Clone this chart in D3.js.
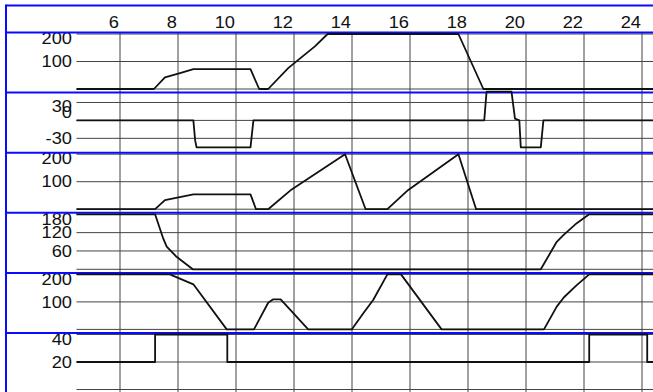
<!DOCTYPE html>
<html>
<head>
<meta charset="utf-8">
<script src="https://cdn.jsdelivr.net/npm/d3@7"></script>
<style>
  html, body { margin: 0; padding: 0; background: #fff; overflow: hidden; }
  svg { display: block; }
  text { font-family: "Liberation Sans", Arial, sans-serif; font-size: 16px; fill: #111; }
</style>
</head>
<body>
<svg id="chart" width="653" height="392"></svg>
<script>
// Hour axis ticks (shared by all strips)
const hourTicks = [6, 8, 10, 12, 14, 16, 18, 20, 22, 24];

// Strip 1
const trace1Hours  = [4.5, 7.17, 7.55, 8.07, 8.53, 10.5, 10.8, 11.11, 11.8, 12.72, 13.16, 17.67, 18.53, 24.5];
const trace1Values = [0, 0, 42, 58, 72, 72, 0, 0, 76, 155, 200, 200, 0, 0];
const trace1Ticks  = [200, 100];

// Strip 2
const trace2Hours  = [4.5, 8.53, 8.59, 8.64, 10.5, 10.6, 18.56, 18.64, 19.5, 19.62, 19.77, 19.82, 20.51, 20.6, 24.5];
const trace2Values = [0, 0, -33, -45, -45, 0, 0, 48, 48, 3, 0, -45, -45, 0, 0];
const trace2Ticks  = [30, 0, -30];

// Strip 3
const trace3Hours  = [4.5, 7.21, 7.55, 8.53, 10.5, 10.69, 11.11, 11.92, 13.76, 14.47, 15.22, 15.94, 17.67, 18.28, 24.5];
const trace3Values = [0, 0, 33, 54, 54, 0, 0, 72, 200, 0, 0, 70, 200, 0, 0];
const trace3Ticks  = [200, 100];

// Strip 4
const trace4Hours  = [4.5, 7.21, 7.49, 7.61, 7.95, 8.51, 20.51, 21.06, 21.29, 21.75, 22.18, 24.5];
const trace4Values = [180, 180, 101, 74, 41, 0, 0, 90, 112, 151, 180, 180];
const trace4Ticks  = [180, 120, 60];

// Strip 5
const trace5Hours  = [4.5, 7.72, 8.53, 9.68, 10.62, 11.11, 11.27, 11.54, 12.49, 13.99, 14.39, 14.73, 15.22, 15.69, 17.09, 20.62, 21.06, 21.31, 21.75, 22.18, 24.5];
const trace5Values = [200, 200, 164, 0, 0, 97, 109, 109, 0, 0, 59, 107, 200, 200, 0, 0, 83, 117, 161, 200, 200];
const trace5Ticks  = [200, 100];

// Strip 6
const trace6Hours  = [4.5, 7.21, 7.21, 9.7, 9.7, 22.18, 22.18, 24.18, 24.18, 24.5];
const trace6Values = [20, 20, 40, 40, 20, 20, 40, 40, 20, 20];
const trace6Ticks  = [40, 20];

// Layout
const W = 653, H = 392;
const frameLeft = 6, frameTop = 5.5;
const plotLeft = 76.5;
const stripTop0 = 32.5, stripStep = 60.1;
const blue = "#0a0aff", gridColor = "#444", inkColor = "#111";

const strips = [
  { hours: trace1Hours, values: trace1Values, ticks: trace1Ticks, domain: [0, 200] },
  { hours: trace2Hours, values: trace2Values, ticks: trace2Ticks, domain: [-48, 44], nudge: { "30": 3.5, "0": -8 } },
  { hours: trace3Hours, values: trace3Values, ticks: trace3Ticks, domain: [0, 200] },
  { hours: trace4Hours, values: trace4Values, ticks: trace4Ticks, domain: [0, 180] },
  { hours: trace5Hours, values: trace5Values, ticks: trace5Ticks, domain: [0, 200] },
  { hours: trace6Hours, values: trace6Values, ticks: trace6Ticks, domain: [0, 40] }
];

const svg = d3.select("#chart");
const x = d3.scaleLinear().domain([4.5, 24.5]).range([plotLeft, plotLeft + 580]);

// stretch text horizontally a little, as the labels use a wide face
function widen(sel, k) {
  sel.each(function () {
    const len = this.getComputedTextLength();
    d3.select(this).attr("textLength", len * k).attr("lengthAdjust", "spacingAndGlyphs");
  });
}

// vertical hour grid
const gGrid = svg.append("g");
gGrid.selectAll("line.v").data(hourTicks).join("line")
  .attr("x1", d => x(d)).attr("x2", d => x(d))
  .attr("y1", stripTop0).attr("y2", H)
  .attr("stroke", gridColor).attr("stroke-width", 1);

// hour labels in the header row
const hourLabels = svg.append("g").selectAll("text").data(hourTicks).join("text")
  .attr("x", d => x(d) - 1).attr("y", 28)
  .attr("text-anchor", "end")
  .text(d => d);
widen(hourLabels, 1.14);

strips.forEach((s, i) => {
  const top = stripTop0 + stripStep * i;
  const y = d3.scaleLinear().domain(s.domain).range([top + 56.5, top + 1.5]);
  s.y = y; s.top = top;

  const gridVals = Array.from(new Set([...s.ticks, 0]));
  gGrid.append("g").selectAll("line").data(gridVals).join("line")
    .attr("x1", plotLeft).attr("x2", W)
    .attr("y1", d => y(d)).attr("y2", d => y(d))
    .attr("stroke", gridColor).attr("stroke-width", 1);

  const labels = svg.append("g").selectAll("text").data(s.ticks).join("text")
    .attr("x", 72)
    .attr("y", d => Math.max(y(d), top + 6) + ((s.nudge && s.nudge[String(d)]) || 0))
    .attr("dy", "0.36em")
    .attr("text-anchor", "end")
    .text(d => d);
  widen(labels, 1.14);
});

// blue frame and strip separators
const gFrame = svg.append("g");
gFrame.append("line")
  .attr("x1", frameLeft).attr("x2", W).attr("y1", frameTop).attr("y2", frameTop)
  .attr("stroke", blue).attr("stroke-width", 2);
gFrame.append("line")
  .attr("x1", frameLeft).attr("x2", frameLeft).attr("y1", frameTop - 1).attr("y2", H)
  .attr("stroke", blue).attr("stroke-width", 2);
gFrame.selectAll("line.sep").data(strips).join("line")
  .attr("class", "sep")
  .attr("x1", frameLeft).attr("x2", W)
  .attr("y1", d => d.top).attr("y2", d => d.top)
  .attr("stroke", blue).attr("stroke-width", 2);

// traces
strips.forEach(s => {
  const pts = s.hours.map((h, k) => [h, s.values[k]]);
  const line = d3.line().x(d => x(d[0])).y(d => s.y(d[1]));
  svg.append("path")
    .attr("d", line(pts))
    .attr("fill", "none")
    .attr("stroke", inkColor)
    .attr("stroke-width", 1.8)
    .attr("stroke-linejoin", "round");
});
</script>
</body>
</html>
